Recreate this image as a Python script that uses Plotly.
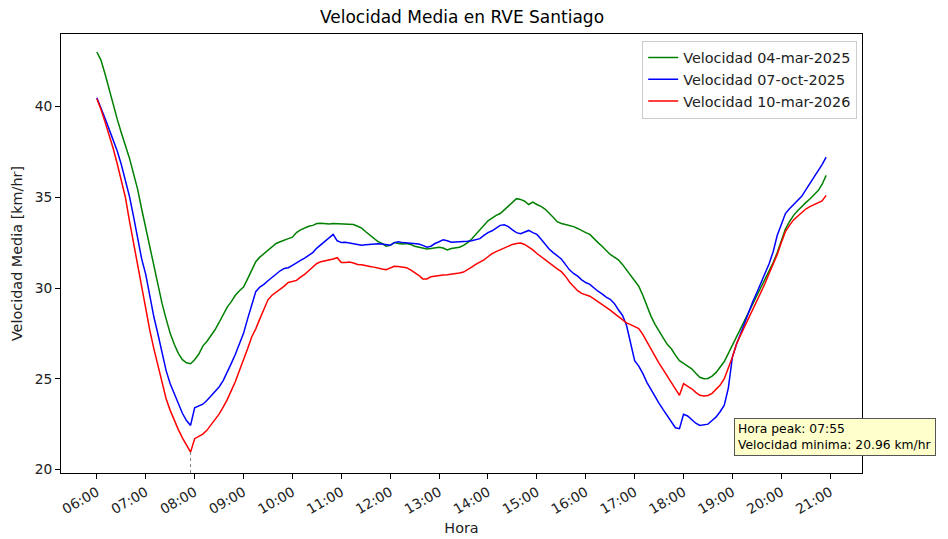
import plotly.graph_objects as go

# ---- data (5-minute steps 06:00 .. 20:55) ----
hours = list(range(6, 21))
minutes = list(range(0, 60, 5))
times = ["2025-01-01 %02d:%02d" % (h, m) for h in hours for m in minutes]

vel_04_mar_2025 = [
    43.0, 42.55, 41.8, 40.95, 40.05, 39.3, 38.55, 37.85, 37.15, 36.3, 35.45, 34.35,
    33.3, 32.25, 31.25, 30.2, 29.15, 28.3, 27.5, 26.9, 26.4, 26.05, 25.88, 25.83,
    26.05, 26.35, 26.8, 27.05, 27.35, 27.7, 28.1, 28.55, 28.95, 29.25, 29.6, 29.85,
    30.05, 30.5, 30.95, 31.45, 31.7, 31.9, 32.1, 32.3, 32.45, 32.55, 32.65, 32.72,
    32.8, 33.05, 33.2, 33.3, 33.4, 33.45, 33.55, 33.57, 33.55, 33.52, 33.55, 33.54,
    33.52, 33.55, 33.53, 33.5, 33.4, 33.3, 33.1, 32.9, 32.7, 32.55, 32.45, 32.3,
    32.35, 32.5, 32.45, 32.42, 32.45, 32.4, 32.3, 32.25, 32.2, 32.15, 32.18, 32.22,
    32.25, 32.2, 32.1, 32.18, 32.2, 32.25, 32.35, 32.5, 32.7, 32.95, 33.2, 33.45,
    33.7, 33.85, 34.0, 34.1, 34.3, 34.55, 34.75, 34.92, 34.88, 34.78, 34.6, 34.73,
    34.6, 34.5, 34.35, 34.15, 33.9, 33.65, 33.55, 33.5, 33.45, 33.38, 33.28, 33.15,
    33.05, 32.95, 32.7, 32.5, 32.3, 32.05, 31.85, 31.7, 31.55, 31.3, 31.0, 30.75,
    30.4, 30.1, 29.6, 29.0, 28.45, 28.0, 27.6, 27.25, 26.9, 26.65, 26.3, 26.0,
    25.85, 25.7, 25.55, 25.3, 25.08, 25.0, 25.02, 25.15, 25.35, 25.65, 25.95, 26.4,
    26.85, 27.3, 27.75, 28.2, 28.65, 29.1, 29.55, 30.0, 30.45, 30.9, 31.4, 31.95,
    32.6, 33.25, 33.65, 34.0, 34.25, 34.5, 34.7, 34.9, 35.15, 35.35, 35.7, 36.2,
]

vel_07_oct_2025 = [
    40.48, 39.95, 39.35, 38.75, 38.15, 37.55, 36.8, 36.0, 35.05, 33.95, 32.75, 31.6,
    30.75, 29.5, 28.4, 27.45, 26.4, 25.45, 24.73, 24.15, 23.65, 23.1, 22.7, 22.43,
    23.4, 23.5, 23.6, 23.8, 24.05, 24.25, 24.55, 24.9, 25.35, 25.85, 26.35, 26.9,
    27.5, 28.3, 29.1, 29.8, 30.05, 30.2, 30.4, 30.6, 30.75, 30.95, 31.08, 31.12,
    31.25, 31.4, 31.52, 31.65, 31.78, 31.95, 32.2, 32.4, 32.55, 32.75, 32.95, 32.6,
    32.5, 32.52, 32.48, 32.42, 32.38, 32.35, 32.38, 32.4, 32.45, 32.44, 32.42, 32.4,
    32.35, 32.5, 32.55, 32.5, 32.48, 32.45, 32.44, 32.42, 32.35, 32.25, 32.3, 32.45,
    32.55, 32.66, 32.6, 32.52, 32.53, 32.53, 32.55, 32.57, 32.6, 32.65, 32.72, 32.9,
    33.05, 33.15, 33.28, 33.45, 33.48, 33.38, 33.2, 33.05, 32.99, 33.1, 33.17, 33.05,
    32.95, 32.7, 32.4, 32.15, 31.95, 31.75, 31.6, 31.3, 31.0, 30.8, 30.65, 30.45,
    30.3, 30.2, 30.0, 29.82, 29.68, 29.5, 29.38, 29.15, 28.8, 28.5, 27.95, 26.95,
    26.0, 25.7, 25.3, 24.8, 24.4, 24.0, 23.65, 23.3, 22.95, 22.65, 22.3, 22.25,
    23.04, 22.95, 22.75, 22.55, 22.43, 22.45, 22.5, 22.7, 22.9, 23.2, 23.55, 24.5,
    26.2, 26.9, 27.5, 28.1, 28.7, 29.25, 29.75, 30.3, 30.8, 31.34, 32.0, 32.9,
    33.5, 34.1, 34.37, 34.6, 34.85, 35.05, 35.4, 35.75, 36.05, 36.4, 36.8, 37.21,
]

vel_10_mar_2026 = [
    40.42, 39.85, 39.15, 38.45, 37.7, 36.84, 35.95, 35.0, 33.7, 32.5, 31.3, 30.05,
    28.75, 27.67, 26.65, 25.7, 24.75, 23.9, 23.26, 22.7, 22.2, 21.75, 21.35, 20.96,
    21.7, 21.82, 21.95, 22.16, 22.45, 22.75, 23.05, 23.44, 23.85, 24.35, 24.85, 25.45,
    26.0, 26.65, 27.3, 27.75, 28.3, 28.85, 29.35, 29.6, 29.75, 29.9, 30.1, 30.3,
    30.38, 30.42, 30.6, 30.75, 30.95, 31.15, 31.35, 31.45, 31.5, 31.52, 31.6, 31.67,
    31.4, 31.4, 31.43, 31.38, 31.3, 31.28, 31.22, 31.19, 31.15, 31.12, 31.05, 31.01,
    31.1, 31.2, 31.18, 31.15, 31.12, 31.0, 30.85, 30.7, 30.5, 30.5, 30.62, 30.66,
    30.7, 30.71, 30.73, 30.75, 30.78, 30.83, 30.88, 31.0, 31.15, 31.3, 31.42, 31.55,
    31.72, 31.89, 32.0, 32.1, 32.2, 32.32, 32.4, 32.45, 32.48, 32.4, 32.27, 32.1,
    31.9, 31.72, 31.55, 31.36, 31.2, 31.05, 30.9, 30.65, 30.33, 30.1, 29.85, 29.7,
    29.62, 29.55, 29.4, 29.25, 29.1, 28.95, 28.78, 28.6, 28.42, 28.25, 28.08, 27.98,
    27.85, 27.76, 27.45, 27.05, 26.6, 26.2, 25.85, 25.5, 25.15, 24.8, 24.4, 24.09,
    24.73, 24.6, 24.45, 24.25, 24.09, 24.05, 24.08, 24.2, 24.4, 24.65, 25.0, 25.55,
    26.2, 26.93, 27.4, 27.85, 28.35, 28.8, 29.25, 29.75, 30.25, 30.8, 31.3, 31.85,
    32.5, 33.1, 33.45, 33.75, 33.95, 34.15, 34.35, 34.48, 34.58, 34.68, 34.8, 35.1,
]

series = [
    ("Velocidad 04-mar-2025", vel_04_mar_2025, "green"),
    ("Velocidad 07-oct-2025", vel_07_oct_2025, "blue"),
    ("Velocidad 10-mar-2026", vel_10_mar_2026, "red"),
]

y_ticks = [20, 25, 30, 35, 40]
y_range = [19.81, 43.99]
x_range = ["2025-01-01 05:16", "2025-01-01 21:39"]

font_family = "DejaVu Sans, Verdana, sans-serif"
fig = go.Figure()

for name, vals, color in series:
    fig.add_trace(go.Scatter(x=times, y=vals, mode="lines", name=name,
                             line=dict(color=color, width=1.5)))

# minimum of latest series
latest = vel_10_mar_2026
i_min = latest.index(min(latest))
t_min = times[i_min]
v_min = latest[i_min]
fig.add_trace(go.Scatter(x=[t_min, t_min], y=[y_range[0], v_min], mode="lines",
                         line=dict(color="gray", width=1, dash="dot"),
                         showlegend=False, hoverinfo="skip"))

fig.add_annotation(
    xref="paper", yref="paper", x=0.840, y=0.1253, xanchor="left", yanchor="top",
    text="Hora peak: %s<br>Velocidad minima: %.2f km/hr" % (t_min[-5:], v_min),
    showarrow=False, align="left", bgcolor="#ffffcc", bordercolor="#555555",
    borderwidth=1, borderpad=3,
    font=dict(family=font_family, size=12.3, color="black"),
)

axis_common = dict(showline=True, linecolor="black", linewidth=1, mirror=True,
                   ticks="outside", ticklen=5, tickcolor="black", showgrid=False,
                   zeroline=False, automargin=False,
                   tickfont=dict(family=font_family, size=13.8, color="#222"))

# page body has an 8px default margin, so the figure is sized to fit the window
fig.update_layout(
    width=940, height=531,
    margin=dict(l=53, r=86, t=26, b=66),
    paper_bgcolor="white", plot_bgcolor="white",
    title=dict(text="Velocidad Media en RVE Santiago", x=0.483,
               xanchor="center", y=0.983, yanchor="middle",
               font=dict(family=font_family, size=17, color="black")),
    font=dict(family=font_family, size=14, color="black"),
    legend=dict(x=0.994, y=0.985, xanchor="right", yanchor="top",
                bgcolor="rgba(255,255,255,0.9)", bordercolor="#cccccc", borderwidth=1,
                font=dict(family=font_family, size=14.4, color="#222"),
                tracegroupgap=0, itemwidth=30),
    xaxis=dict(range=x_range, type="date", tickformat="%H:%M", dtick=3600000,
               tick0="2025-01-01 06:00", tickangle=-30,
               title=dict(text="Hora", font=dict(family=font_family, size=14.4, color="#222"),
                          standoff=6),
               **axis_common),
    yaxis=dict(range=y_range, tickvals=y_ticks,
               title=dict(text="Velocidad Media [km/hr]",
                          font=dict(family=font_family, size=14.4, color="#222"), standoff=8),
               **axis_common),
)

fig.write_html("out.html")
